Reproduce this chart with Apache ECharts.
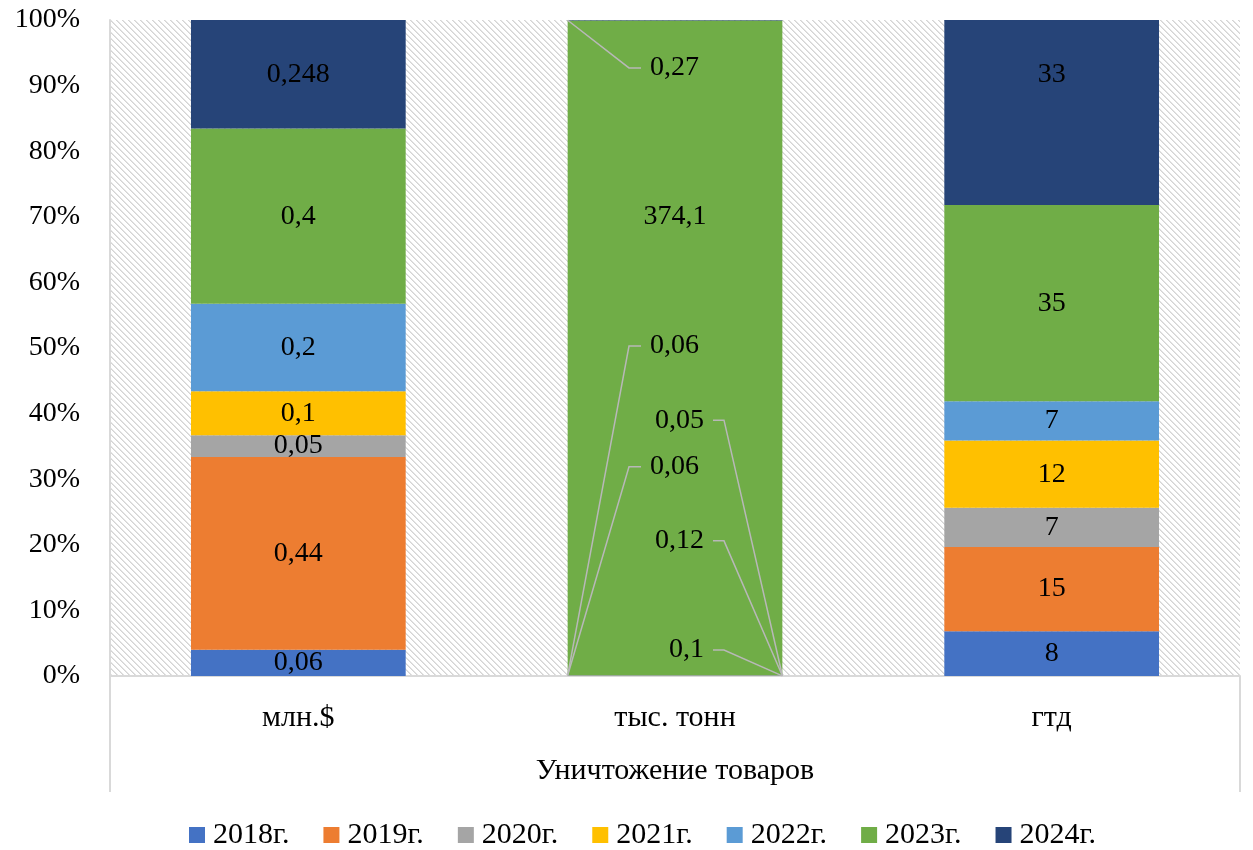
<!DOCTYPE html>
<html>
<head>
<meta charset="utf-8">
<script src="https://cdn.jsdelivr.net/npm/echarts@6/dist/echarts.min.js"></script>
<style>
  html, body { margin: 0; padding: 0; background: #fff; }
  #chart { width: 1253px; height: 850px; }
</style>
</head>
<body>
<div id="chart"></div>
<script>
const categories = ["млн.$", "тыс. тонн", "гтд"];
const groupLabel = ["Уничтожение товаров"];
const years = ["2018г.", "2019г.", "2020г.", "2021г.", "2022г.", "2023г.", "2024г."];

// values per category: [млн.$, тыс. тонн, гтд]
const v2018 = [0.06, 0.1, 8];
const v2019 = [0.44, 0.12, 15];
const v2020 = [0.05, 0.06, 7];
const v2021 = [0.1, 0.05, 12];
const v2022 = [0.2, 0.06, 7];
const v2023 = [0.4, 374.1, 35];
const v2024 = [0.248, 0.27, 33];

const yTicks = [0, 10, 20, 30, 40, 50, 60, 70, 80, 90, 100];

const values = [v2018, v2019, v2020, v2021, v2022, v2023, v2024];
const COLORS = ["#4472C4", "#ED7D31", "#A5A5A5", "#FFC000", "#5B9BD5", "#70AD47", "#264478"];
const FONT = "Liberation Serif";
const BAR_RATIO = 0.57;
const TON = 1; // index of "тыс. тонн"

// callouts for the tonnes column (label height in % of axis, side of leader line)
const TON_CALLOUTS = [
  { year: 0, y: 3.96, side: 1 },
  { year: 1, y: 20.6, side: 1 },
  { year: 2, y: 31.9, side: -1 },
  { year: 3, y: 39.0, side: 1 },
  { year: 4, y: 50.3, side: -1 },
  { year: 5, y: 70.1, side: 0 },
  { year: 6, y: 92.7, side: -1 },
];
// labels moved by hand in the original
const LABEL_SHIFT = [{ year: 6, cat: 2, dy: -38 }];

const fmt = v => String(v).replace(".", ",");

const totals = categories.map((_, c) => values.reduce((s, arr) => s + arr[c], 0));
const pct = (y, c) => values[y][c] / totals[c] * 100;
const midPct = (y, c) => {
  let below = 0;
  for (let i = 0; i < y; i++) below += pct(i, c);
  return below + pct(y, c) / 2;
};

function hatch() {
  const p = 6;
  const cv = document.createElement("canvas");
  cv.width = p; cv.height = p;
  const ctx = cv.getContext("2d");
  const img = ctx.createImageData(p, p);
  for (let y = 0; y < p; y++) {
    for (let x = 0; x < p; x++) {
      const d = (x - y + p * 2) % p;
      const c = d === 0 ? 212 : d === 1 ? 228 : 255;
      const i = (y * p + x) * 4;
      img.data[i] = c; img.data[i + 1] = c; img.data[i + 2] = c; img.data[i + 3] = 255;
    }
  }
  ctx.putImageData(img, 0, 0);
  return cv;
}

const chart = echarts.init(document.getElementById("chart"));

const barSeries = years.map((name, y) => ({
  name,
  type: "bar",
  stack: "total",
  barWidth: (BAR_RATIO * 100) + "%",
  itemStyle: { color: COLORS[y] },
  label: {
    show: true,
    position: "inside",
    fontFamily: FONT,
    fontSize: 28,
    color: "#000",
    formatter: p => fmt(p.data.raw),
  },
  emphasis: { disabled: true },
  data: categories.map((_, c) => {
    const shift = LABEL_SHIFT.find(s => s.year === y && s.cat === c);
    return {
      value: pct(y, c),
      raw: values[y][c],
      label: { show: c !== TON, offset: [0, shift ? shift.dy : 0] },
    };
  }),
}));

const calloutSeries = {
  type: "custom",
  silent: true,
  z: 10,
  encode: { x: 0, y: 1 },
  data: TON_CALLOUTS.map(o => [TON, o.y, midPct(o.year, TON), o.side, values[o.year][TON]]),
  renderItem(params, api) {
    const lp = api.coord([api.value(0), api.value(1)]);
    const ap = api.coord([api.value(0), api.value(2)]);
    const half = api.size([1, 0])[0] * BAR_RATIO / 2;
    const side = api.value(3);
    const cx = lp[0], y = lp[1];
    const text = fmt(api.value(4));
    const children = [];
    if (side !== 0) {
      const p1 = side < 0 ? [cx - 34, y] : [cx + 38, y];
      const p2 = side < 0 ? [cx - 46, y] : [cx + 49, y];
      children.push({
        type: "polyline",
        shape: { points: [p1, p2, [cx + side * half, ap[1]]] },
        style: { stroke: "#b8b8b8", lineWidth: 1.5, fill: null },
      });
    }
    children.push({
      type: "text",
      style: {
        text,
        x: side < 0 ? cx - 25 : side > 0 ? cx + 29 : cx,
        y,
        align: side < 0 ? "left" : side > 0 ? "right" : "center",
        verticalAlign: "middle",
        fontFamily: FONT,
        fontSize: 28,
        fill: "#000",
      },
    });
    return { type: "group", children };
  },
};

chart.setOption({
  animation: false,
  grid: {
    left: 110, right: 13, top: 20, bottom: 174,
    show: true,
    borderWidth: 0,
    backgroundColor: { image: hatch(), repeat: "repeat" },
  },
  legend: {
    data: years,
    left: 184,
    top: 815,
    icon: "rect",
    itemWidth: 16,
    itemHeight: 16,
    itemGap: 34,
    textStyle: { fontFamily: FONT, fontSize: 30, color: "#000", padding: [0, 0, 0, 3] },
  },
  xAxis: [
    {
      type: "category",
      data: categories,
      position: "bottom",
      axisLine: { lineStyle: { color: "#d9d9d9", width: 2 } },
      axisTick: { show: false },
      axisLabel: { fontFamily: FONT, fontSize: 30, color: "#000", margin: 27 },
    },
    {
      type: "category",
      data: groupLabel,
      position: "bottom",
      axisLine: { show: false },
      axisTick: { show: true, length: 116, lineStyle: { color: "#d9d9d9", width: 2 } },
      axisLabel: { fontFamily: FONT, fontSize: 30, color: "#000", margin: 80 },
    },
  ],
  yAxis: {
    type: "value",
    min: yTicks[0],
    max: yTicks[yTicks.length - 1],
    interval: yTicks[1] - yTicks[0],
    axisLine: { show: true, lineStyle: { color: "#d9d9d9", width: 2 } },
    axisTick: { show: false },
    splitLine: { show: false },
    axisLabel: { fontFamily: FONT, fontSize: 28, color: "#000", margin: 30, formatter: "{value}%" },
  },
  series: [...barSeries, calloutSeries],
});
</script>
</body>
</html>
